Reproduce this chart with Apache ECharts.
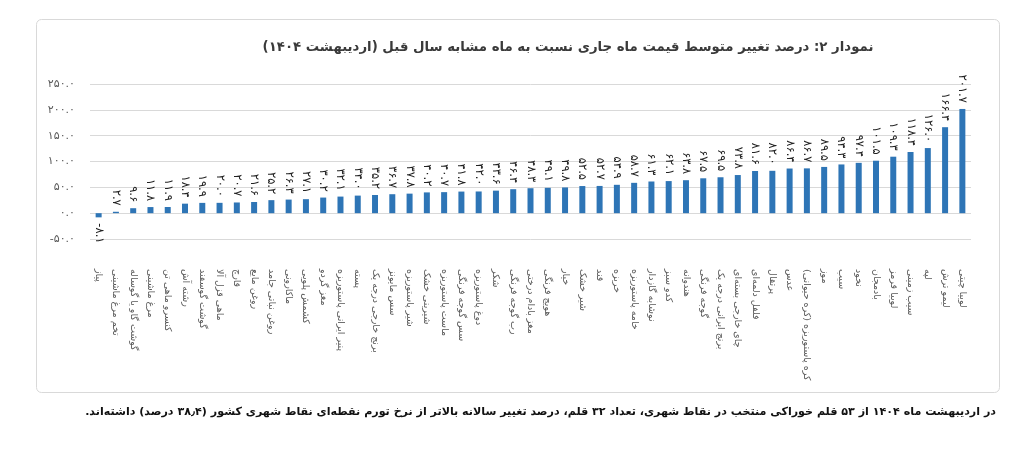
<!DOCTYPE html>
<html><head><meta charset="utf-8">
<script src="https://cdn.jsdelivr.net/npm/echarts@6/dist/echarts.min.js"></script>
<style>html,body{margin:0;padding:0;background:#fff}#c{width:1010px;height:453px}</style>
</head><body><div id="c"></div>
<script>
const categories = [
  'پیاز','تخم مرغ ماشینی','گوشت گاو یا گوساله','مرغ ماشینی','کنسرو ماهی تن','رشته آش','گوشت گوسفند','ماهی قزل آلا','قارچ','روغن مایع',
  'روغن نباتی جامد','ماکارونی','کشمش پلویی','مغز گردو','پنیر ایرانی پاستوریزه','پسته','برنج خارجی درجه یک','سس مایونز','شیر پاستوریزه','شیرینی خشک',
  'ماست پاستوریزه','سس گوجه فرنگی','دوغ پاستوریزه','شکر','رب گوجه فرنگی','مغز بادام درختی','هویج فرنگی','خیار','شیر خشک','قند',
  'خربزه','خامه پاستوریزه','نوشابه گازدار','کدو سبز','هندوانه','گوجه فرنگی','برنج ایرانی درجه یک','چای خارجی بسته‌ای','فلفل دلمه‌ای','پرتقال',
  'عدس','کره پاستوریزه (کره حیوانی)','موز','سیب','نخود','بادمجان','لوبیا قرمز','سیب زمینی','لپه','لیمو ترش','لوبیا چیتی'
];
const values = [
  -8.1, 2.7, 9.6, 11.8, 11.9, 18.4, 19.9, 20.0, 20.7, 21.6,
  25.2, 26.3, 27.1, 30.2, 32.1, 34.0, 35.2, 36.7, 37.8, 40.2,
  40.7, 41.8, 42.0, 43.6, 46.4, 48.3, 49.1, 49.8, 52.5, 52.7,
  54.9, 58.7, 61.3, 62.1, 63.8, 67.5, 69.5, 73.8, 81.6, 82.0,
  86.4, 86.7, 89.5, 94.3, 97.4, 101.5, 109.3, 118.4, 126.0, 166.4, 201.7
];
const yMin = -50, yMax = 250, yStep = 50;
const titleText = 'نمودار ۲: درصد تغییر متوسط قیمت ماه جاری نسبت به ماه مشابه سال قبل (اردیبهشت ۱۴۰۴)';
const footerText = 'در اردیبهشت ماه ۱۴۰۴ از ۵۳ قلم خوراکی منتخب در نقاط شهری، تعداد ۳۲ قلم، درصد تغییر سالانه بالاتر از نرخ تورم نقطه‌ای نقاط شهری کشور (۳۸٫۴ درصد) داشته‌اند.';

const RLM = '\u200F';
const FA = '۰۱۲۳۴۵۶۷۸۹';
function fa(n){ return n.toFixed(1).replace(/\d/g, d => FA[+d]); }
const FONT = "'DejaVu Sans', sans-serif";

const data = values.map(v => v < 0
  ? { value: v, label: { position: 'bottom', align: 'left' } }
  : v);

const chart = echarts.init(document.getElementById('c'), null, { renderer: 'canvas' });
chart.setOption({
  animation: false,
  backgroundColor: '#fff',
  title: {
    text: RLM + titleText + RLM,
    left: 563, top: 36, textAlign: 'center',
    textStyle: { fontFamily: FONT, fontSize: 13.3, fontWeight: 'bold', color: '#3a3a3a' }
  },
  graphic: [
    { type: 'rect', shape: { x: 36.5, y: 19.5, width: 963, height: 373, r: 5 },
      style: { fill: 'none', stroke: '#d9d9d9', lineWidth: 1 }, silent: true, z: -1 },
    { type: 'text', right: 14, top: 407,
      style: { text: RLM + footerText + RLM, fontFamily: FONT, fontSize: 11.1, fontWeight: 'bold', fill: '#111', textAlign: 'right' } }
  ],
  grid: { left: 90, right: 39, top: 84, bottom: 214, containLabel: false },
  xAxis: {
    type: 'category', data: categories.map(c => c + RLM),
    axisLine: { show: false }, axisTick: { show: false },
    axisLabel: { interval: 0, rotate: -90, margin: 30, fontFamily: FONT, fontSize: 9.5, color: '#595959' }
  },
  yAxis: {
    type: 'value', min: yMin, max: yMax, interval: yStep,
    axisLine: { show: false }, axisTick: { show: false },
    axisLabel: { margin: 15, fontFamily: FONT, fontSize: 11, color: '#595959', formatter: v => fa(v) },
    splitLine: { lineStyle: { color: '#d9d9d9', width: 1 } }
  },
  series: [{
    type: 'bar', data: data, barWidth: 6,
    itemStyle: { color: '#2E75B6' },
    label: {
      show: true, position: 'top', distance: 6, rotate: -90, align: 'right', verticalAlign: 'middle',
      fontFamily: FONT, fontSize: 11.5, color: '#222',
      formatter: p => fa(p.value)
    }
  }]
});
</script></body></html>
